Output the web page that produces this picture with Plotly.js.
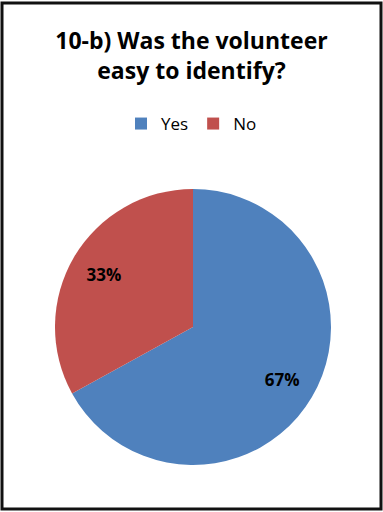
<!DOCTYPE html>
<html>
<head>
<meta charset="utf-8">
<script src="https://cdn.plot.ly/plotly-3.0.1.min.js"></script>
<style>html,body{margin:0;padding:0;background:#fff;}#chart{width:383px;height:512px;}</style>
</head>
<body>
<div id="chart"></div>
<script>
const categories = ["Yes", "No"];
const values = [67, 33];
const colors = ["#4F81BD", "#C0504D"];
const titleText = "10-b) Was the volunteer<br>easy to identify?";

const W = 383, H = 512;
const pieDomain = {x: [55 / W, 331 / W], y: [1 - 465 / H, 1 - 189 / H]};
const fillTrace = {
  type: "pie",
  labels: categories,
  values: values,
  sort: false,
  direction: "clockwise",
  rotation: 0,
  marker: {colors: colors, line: {width: 0}},
  textinfo: "none",
  hoverinfo: "none",
  domain: pieDomain
};
const labelTrace = {
  type: "pie",
  labels: categories,
  values: values,
  sort: false,
  direction: "clockwise",
  rotation: 0,
  hole: 0.5,
  showlegend: false,
  marker: {colors: ["rgba(0,0,0,0)", "rgba(0,0,0,0)"], line: {width: 0}},
  textinfo: "percent",
  texttemplate: "%{percent:.0%}",
  textposition: "inside",
  insidetextorientation: "horizontal",
  textfont: {family: "Open Sans, sans-serif", size: 17, color: "#000", weight: "bold"},
  hoverinfo: "none",
  domain: pieDomain
};
const layout = {
  width: W, height: H,
  margin: {l: 0, r: 0, t: 0, b: 0},
  paper_bgcolor: "#fff",
  font: {family: "Open Sans, sans-serif", color: "#000"},
  title: {
    text: titleText,
    font: {family: "Open Sans, sans-serif", size: 23, color: "#000", weight: "bold"},
    x: 0.5, xanchor: "center",
    y: 1 - 49 / H, yanchor: "middle", yref: "container"
  },
  showlegend: true,
  legend: {
    orientation: "h", x: 0.5, xanchor: "center", y: 1 - 124 / H, yanchor: "middle",
    font: {family: "Open Sans, sans-serif", size: 17, color: "#000"},
    traceorder: "normal", itemwidth: 30
  },
  shapes: [{
    type: "rect", xref: "paper", yref: "paper",
    x0: 2 / W, x1: 381 / W, y0: 1 - 509 / H, y1: 1 - 3 / H,
    line: {color: "#111", width: 3}
  }]
};
Plotly.newPlot("chart", [fillTrace, labelTrace], layout, {displayModeBar: false, staticPlot: true});
</script>
</body>
</html>
